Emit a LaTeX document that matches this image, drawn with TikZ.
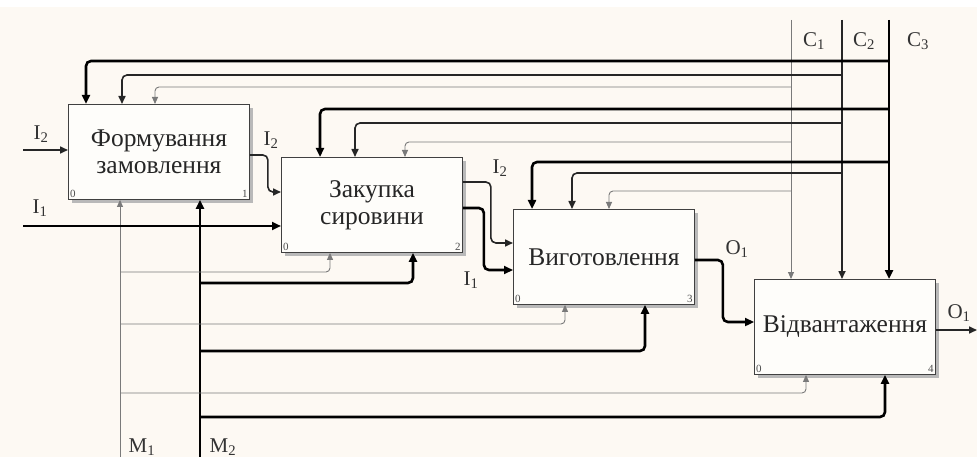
\documentclass[tikz,border=0pt]{standalone}
\usepackage{fontspec}
\setmainfont{Liberation Serif}
\newfontfamily\tnr{Liberation Serif}
\usetikzlibrary{arrows.meta,calc,shadows}
\definecolor{bg}{HTML}{FDF9F3}
\definecolor{thinc}{HTML}{7A7A7A}
\begin{document}
\begin{tikzpicture}[x=1pt,y=-1pt,
  proc/.style={draw=black!75, line width=0.9pt, fill=white!60!bg, anchor=north west, inner sep=0pt,
    minimum width=181pt, minimum height=95pt, align=center, font=\tnr\fontsize{25.5}{27}\selectfont,
    text=black!85,
    drop shadow={shadow xshift=4pt,shadow yshift=-4pt,fill=gray!55,opacity=1}},
  thk/.style={line width=2.6pt, draw=black, rounded corners=5pt, -{Triangle[length=9pt,width=8pt]}},
  mid/.style={line width=1.6pt, draw=black!85, rounded corners=5pt, -{Triangle[length=8pt,width=7pt]}},
  thn/.style={line width=0.9pt, draw=thinc, rounded corners=4pt, -{Triangle[length=7pt,width=6pt]}},
  lbl/.style={font=\tnr\fontsize{21}{24}\selectfont, inner sep=0pt, text=black!80},
  num/.style={font=\tnr\fontsize{11}{12}\selectfont, inner sep=2pt, text=black!70}
]
\useasboundingbox (0,0) rectangle (977,457);
\fill[bg] (0,7) rectangle (977,457);

% boxes
\node[proc] (b1) at (68,104) {Формування\\замовлення};
\node[proc] (b2) at (281,157) {Закупка\\сировини};
\node[proc] (b3) at (513,209) {Виготовлення};
\node[proc] (b4) at (754,279) {Відвантаження};
\foreach \b/\n in {b1/1,b2/2,b3/3,b4/4}{
  \node[num,anchor=south west] at (\b.south west) {0};
  \node[num,anchor=south east] at (\b.south east) {\n};
}

% control sources
\coordinate (C1) at (791,20);
\coordinate (C2) at (842,20);
\coordinate (C3) at (889,20);
\coordinate (M1) at (120,457);
\coordinate (M2) at (200,457);
\coordinate (I2in) at (23,150);
\coordinate (I1in) at (23,226);
\coordinate (O1out) at (977,330);

\draw[thn] (C1) -- (C1 |- b4.north);
\draw[mid] (C2) -- (C2 |- b4.north);
\draw[thk] (C3) -- (C3 |- b4.north);

% controls to box 1
\draw[thk] (C3 |- 0,61) -| ([xshift=18pt]b1.north west);
\draw[mid] (C2 |- 0,75) -| ([xshift=54pt]b1.north west);
\draw[thn] (C1 |- 0,87) -| ([xshift=87pt]b1.north west);
% controls to box 2
\draw[thk] (C3 |- 0,109) -| ([xshift=39pt]b2.north west);
\draw[mid] (C2 |- 0,123) -| ([xshift=74pt]b2.north west);
\draw[thn] (C1 |- 0,142) -| ([xshift=124pt]b2.north west);
% controls to box 3
\draw[thk] (C3 |- 0,162) -| ([xshift=19pt]b3.north west);
\draw[mid] (C2 |- 0,173) -| ([xshift=59pt]b3.north west);
\draw[thn] (C1 |- 0,191) -| ([xshift=96pt]b3.north west);

% mechanisms
\draw[thn] (M1) -- (M1 |- b1.south);
\draw[thk] (M2) -- (M2 |- b1.south);
\draw[thn] (M1 |- 0,272) -| ([xshift=49pt]b2.south west);
\draw[thn] (M1 |- 0,324) -| ([xshift=52pt]b3.south west);
\draw[thn] (M1 |- 0,393) -| ([xshift=52pt]b4.south west);
\draw[thk] (M2 |- 0,283) -| ([xshift=132pt]b2.south west);
\draw[thk] (M2 |- 0,351) -| ([xshift=132pt]b3.south west);
\draw[thk] (M2 |- 0,417) -| ([xshift=131pt]b4.south west);

% inputs / outputs
\draw[mid] (I2in) -- (I2in -| b1.west);
\draw[thk] (I1in) -- (I1in -| b2.west);
\draw[mid] ([yshift=-51pt]b1.north east) -- ++(18,0) |- ([yshift=-35pt]b2.north west);
\draw[mid] ([yshift=-25pt]b2.north east) -- ++(28,0) |- ([yshift=-34pt]b3.north west);
\draw[thk] ([yshift=-51pt]b2.north east) -- ++(21,0) |- ([yshift=-61pt]b3.north west);
\draw[thk] ([yshift=-51pt]b3.north east) -- ++(28,0) |- ([yshift=-43pt]b4.north west);
\draw[mid] ([yshift=-51pt]b4.north east) -- (O1out);

% labels
\node[lbl] (lI2a) at (41,134) {I\textsubscript{2}};
\node[lbl] (lI1a) at (40,208) {I\textsubscript{1}};
\node[lbl] (lI2b) at (271,140) {I\textsubscript{2}};
\node[lbl] (lI2c) at (500,168) {I\textsubscript{2}};
\node[lbl] (lI1b) at (471,280) {I\textsubscript{1}};
\node[lbl] (lO1a) at (737,249) {O\textsubscript{1}};
\node[lbl] (lO1b) at (959,313) {O\textsubscript{1}};
\node[lbl] (lC1) at (814,41) {C\textsubscript{1}};
\node[lbl] (lC2) at (864,41) {C\textsubscript{2}};
\node[lbl] (lC3) at (918,41) {C\textsubscript{3}};
\node[lbl] (lM1) at (142,447) {M\textsubscript{1}};
\node[lbl] (lM2) at (223,447) {M\textsubscript{2}};
\end{tikzpicture}
\end{document}
